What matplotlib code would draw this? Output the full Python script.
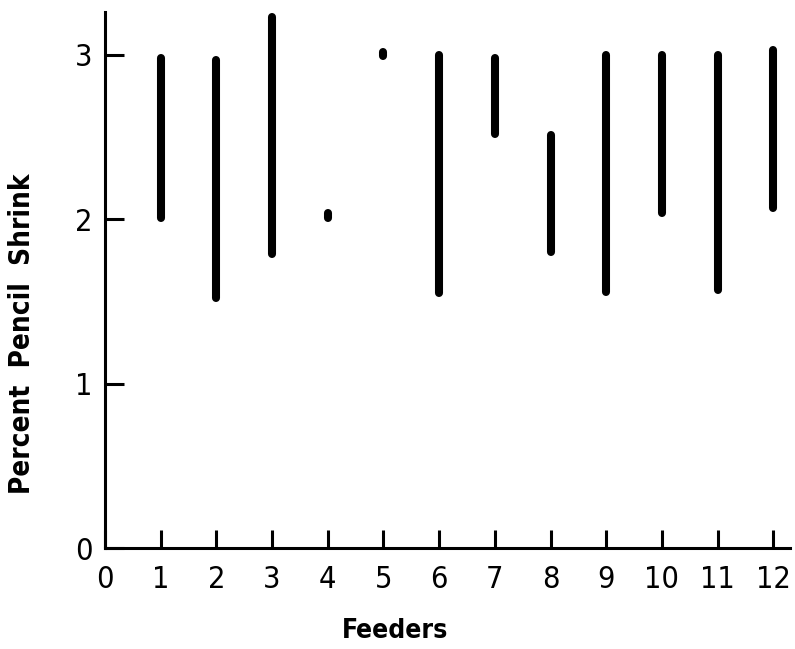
import numpy as np
import matplotlib
matplotlib.use("Agg")
import matplotlib.pyplot as plt

# range of percent pencil shrink per feeder (low, high)
feeders = [1, 2, 3, 4, 5, 6, 7, 8, 9, 10, 11, 12]
shrink_low = [2.01, 1.52, 1.79, 2.01, 2.99, 1.55, 2.52, 1.80, 1.56, 2.04, 1.57, 2.07]
shrink_high = [2.98, 2.97, 3.23, 2.035, 3.015, 3.00, 2.98, 2.51, 3.00, 3.00, 3.00, 3.03]

x_ticks = list(range(0, 13))
y_ticks = [0, 1, 2, 3]

FONT = dict(family=["DejaVu Sans"], stretch="condensed")

fig = plt.figure(figsize=(7.95, 6.49), dpi=100)
ax = fig.add_axes([105 / 795, 1 - 548 / 649, (790 - 105) / 795, (548 - 12) / 649])

lc = ax.vlines(feeders, shrink_low, shrink_high, colors="black", lw=5.8)
lc.set_capstyle("round")

ax.set_xlim(0, 12.3)
ax.set_ylim(0, 3.26)

for side in ("top", "right"):
    ax.spines[side].set_visible(False)
for side in ("left", "bottom"):
    ax.spines[side].set_linewidth(2.2)

ax.set_xticks(x_ticks)
ax.set_yticks(y_ticks)
ax.tick_params(axis="x", direction="in", length=13, width=2.2, pad=12)
ax.tick_params(axis="y", direction="in", length=14, width=2.2, pad=9)
ax.set_xticklabels([str(v) for v in x_ticks], fontsize=22, **FONT)
ax.set_yticklabels([str(v) for v in y_ticks], fontsize=22, **FONT)

ax.set_xlabel("Feeders", fontsize=19, fontweight="bold", **FONT)
ax.set_ylabel("Percent  Pencil  Shrink", fontsize=20, fontweight="bold", **FONT)
ax.xaxis.set_label_coords(0.423, -0.13)
ax.yaxis.set_label_coords(-0.10, 0.40)

fig.savefig("out.png", dpi=100)
